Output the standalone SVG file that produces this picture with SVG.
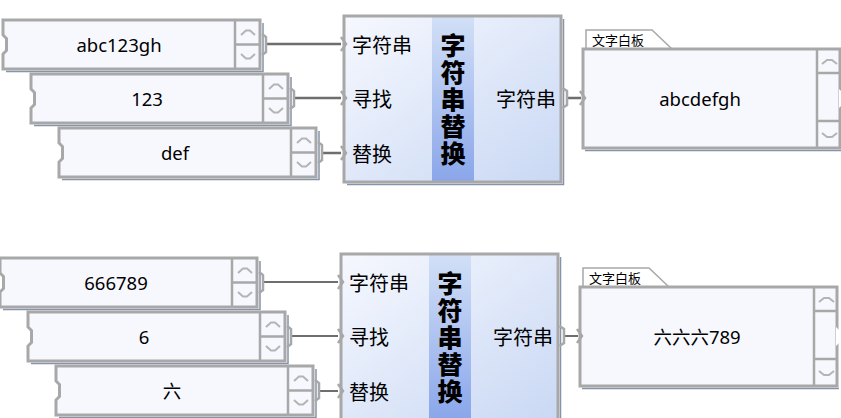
<svg xmlns="http://www.w3.org/2000/svg" xmlns:xlink="http://www.w3.org/1999/xlink" width="841" height="418" viewBox="0 0 841 418">
<style>
.frame{fill:#f7f8fe;stroke:#a8a8a8;stroke-width:3}
.shadow{fill:none;stroke:#8494aa;stroke-width:1.5}
.div{fill:none;stroke:#a8a8a8;stroke-width:2.5}
.chev{fill:none;stroke:#b4b4b4;stroke-width:2}
.nub{fill:none;stroke:#a8a8a8;stroke-width:2.5}
.port{fill:none;stroke:#a8a8a8;stroke-width:2.5}
.val{font-family:"Noto Sans","Open Sans","Noto Sans CJK SC",sans-serif;font-size:18.5px;fill:#000;text-anchor:middle;dominant-baseline:central}
.lbl{font-family:"Noto Sans CJK SC","Noto Sans",sans-serif;font-size:20px;fill:#000;dominant-baseline:central}
.title{font-family:"Noto Sans CJK SC",sans-serif;font-size:25px;font-weight:900;fill:#000;text-anchor:middle;dominant-baseline:central}
.tab{font-family:"Noto Sans CJK SC",sans-serif;font-size:13px;fill:#000;dominant-baseline:central}
.wire{fill:none;stroke:#6e6e6e}
</style>
<defs>
<linearGradient id="blk" x1="0" y1="0" x2="1" y2="1">
<stop offset="0" stop-color="#f6f8fe"/>
<stop offset="1" stop-color="#c9d8f4"/>
</linearGradient>
<linearGradient id="col" x1="0" y1="0" x2="0" y2="1">
<stop offset="0" stop-color="#d2e0f7"/>
<stop offset="1" stop-color="#8aa6ea"/>
</linearGradient>
<g id="inbox">
<path class="shadow" d="M3,51.5 H260 V3"/>
<path class="frame" d="M0,0 H257 V49 H0 V34 L3.5,30.5 V18.5 L0,15 Z"/>
<path class="div" d="M232,0 V49 M232,24.5 H257"/>
<path class="chev" d="M238,15 L243,10.5 H247 L252,15 M238,34 L243,38.5 H247 L252,34"/>
<path class="nub" d="M259,14 L263,17 V32 L259,35"/>
</g>
<g id="block">
<path class="shadow" d="M3,168.5 H219.5 V3"/>
<rect x="0" y="0" width="217" height="166" fill="url(#blk)" stroke="none"/>
<rect x="88" y="0" width="42" height="166" fill="url(#col)"/>
<rect x="0" y="0" width="217" height="166" fill="none" stroke="#a8a8a8" stroke-width="3"/>
<path class="port" d="M-3,21 L2,28 L-3,35 M-3,75 L2,82 L-3,89 M-3,130 L2,137 L-3,144"/>
<path class="nub" d="M218.5,72 L223,75 V89 L218.5,92"/>
<text class="lbl" x="8" y="28">字符串</text>
<text class="lbl" x="8" y="82">寻找</text>
<text class="lbl" x="8" y="137">替换</text>
<text class="lbl" x="212" y="82" text-anchor="end">字符串</text>
<text class="title" x="109" y="27.5">字</text>
<text class="title" x="109" y="54.5">符</text>
<text class="title" x="109" y="81.5">串</text>
<text class="title" x="109" y="108.5">替</text>
<text class="title" x="109" y="135.5">换</text>
</g>
<g id="board">
<path d="M3,0 V-19 H69 L89,0" fill="#fff" stroke="#a8a8a8" stroke-width="1.5"/>
<text class="tab" x="9" y="-9.5">文字白板</text>
<path class="shadow" d="M2,101.5 H259"/>
<rect x="0" y="0" width="257" height="99" class="frame"/>
<path class="div" d="M234,0 V99 M234,24 H257 M234,72 H257"/>
<path class="chev" d="M239,15 L244,11 H249 L254,15 M239,84 L244,88 H249 L254,84"/>
<path d="M256,40 L259,43 V56 L256,59" fill="#fff" stroke="none"/>
<path class="port" d="M-3,42 L2,49 L-3,56"/>
</g>
</defs>

<g id="top">
<g id="connectors-top">
<path class="wire" stroke-width="2.5" d="M266,44 H341 M294,98 H341 M322,153 H341 M567,98 H581"/>
</g>
<g id="in-string-1" transform="translate(3,20)"><use xlink:href="#inbox"/><text class="val" x="116" y="24.5">abc123gh</text></g>
<g id="in-find-1" transform="translate(31,74)"><use xlink:href="#inbox"/><text class="val" x="116" y="24.5">123</text></g>
<g id="in-replace-1" transform="translate(59,128)"><use xlink:href="#inbox"/><text class="val" x="116" y="24.5">def</text></g>
<g id="replace-1" transform="translate(344,16)"><use xlink:href="#block"/></g>
<g id="board-1" transform="translate(583,49)"><use xlink:href="#board"/><text class="val" x="117" y="49.5">abcdefgh</text></g>
</g>

<g id="bottom" transform="translate(-3,238)">
<g id="connectors-bottom">
<path class="wire" stroke-width="1.8" d="M266,44 H341 M294,98 H341 M322,153 H341 M567,98 H581"/>
</g>
<g id="in-string-2" transform="translate(3,20)"><use xlink:href="#inbox"/><text class="val" x="116" y="24.5">666789</text></g>
<g id="in-find-2" transform="translate(31,74)"><use xlink:href="#inbox"/><text class="val" x="116" y="24.5">6</text></g>
<g id="in-replace-2" transform="translate(59,128)"><use xlink:href="#inbox"/><text class="val" x="116" y="24.5">六</text></g>
<g id="replace-2" transform="translate(344,16)"><use xlink:href="#block"/></g>
<g id="board-2" transform="translate(583,49)"><use xlink:href="#board"/><text class="val" x="117" y="49.5">六六六789</text></g>
</g>
</svg>
